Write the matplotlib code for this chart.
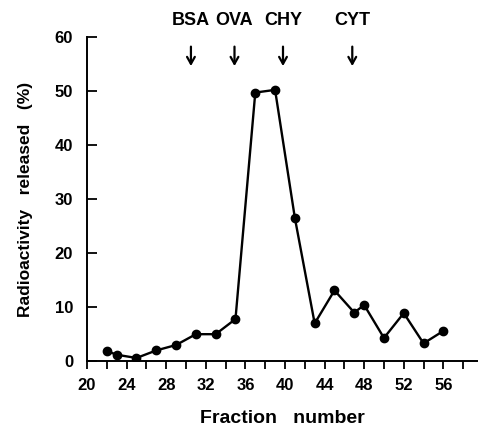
import matplotlib.pyplot as plt

# fraction number vs. radioactivity released (%)
fractions = [22, 23, 25, 27, 29, 31, 33, 35, 37, 39, 41, 43, 45, 47, 48, 50, 52, 54, 56]
released = [1.9, 1.2, 0.6, 2.0, 3.0, 5.0, 5.0, 7.8, 49.7, 50.2, 26.5, 7.0, 13.1, 9.0, 10.4, 4.3, 8.9, 3.3, 5.6]

# marker proteins and their elution positions
markers = ['BSA', 'OVA', 'CHY', 'CYT']
marker_pos = [30.5, 34.9, 39.8, 46.8]

plt.rcParams['font.family'] = ['Liberation Sans', 'DejaVu Sans']

fig = plt.figure(figsize=(4.78, 4.29), dpi=100)
ax = fig.add_axes([0.182, 0.158, 0.818, 0.756])

ax.plot(fractions, released, color='black', linewidth=1.7, marker='o', markersize=6)

ax.set_xlim(20, 59.5)
ax.set_ylim(0, 60)
ax.set_xticks(range(20, 57, 4))
ax.set_xticks(range(22, 59, 2), minor=True)
ax.set_yticks(range(0, 61, 10))

ax.spines['top'].set_visible(False)
ax.spines['right'].set_visible(False)
ax.spines['left'].set_linewidth(1.4)
ax.spines['bottom'].set_linewidth(1.4)
ax.tick_params(axis='x', which='major', direction='out', length=6, width=1.3, labelsize=12, pad=6)
ax.tick_params(axis='x', which='minor', direction='out', length=6, width=1.3)
ax.tick_params(axis='y', direction='in', length=7, width=1.3, labelsize=12, pad=10)
for lbl in ax.get_xticklabels() + ax.get_yticklabels():
    lbl.set_fontweight('bold')

ax.set_xlabel('Fraction   number', fontsize=14, fontweight='bold', labelpad=12)
ax.set_ylabel('Radioactivity   released   (%)', fontsize=12.5, fontweight='bold', labelpad=16)

for name, pos in zip(markers, marker_pos):
    ax.annotate('', xy=(pos, 54.6), xytext=(pos, 58.2),
                arrowprops=dict(arrowstyle='->,head_length=0.5,head_width=0.28',
                                color='black', lw=1.6, shrinkA=0, shrinkB=0),
                annotation_clip=False)
    ax.text(pos, 63.0, name, ha='center', va='center', fontsize=13, fontweight='bold', clip_on=False)

fig.savefig('out.png', dpi=100)
